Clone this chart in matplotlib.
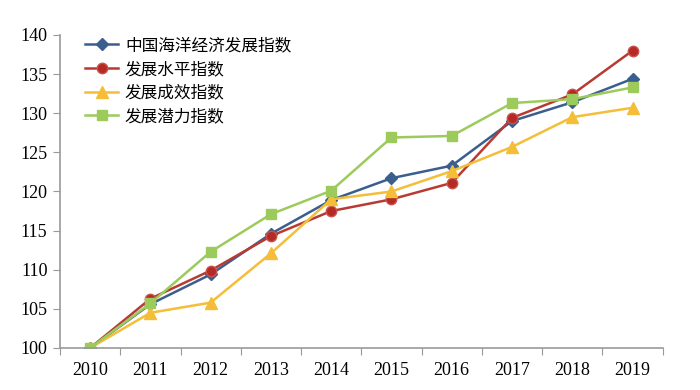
import matplotlib
matplotlib.use("Agg")
import matplotlib.pyplot as plt
import numpy as np

years = ["2010", "2011", "2012", "2013", "2014", "2015", "2016", "2017", "2018", "2019"]
ocean_index = [100, 105.6, 109.4, 114.6, 118.9, 121.7, 123.3, 129.0, 131.4, 134.4]
level_index = [100, 106.3, 109.9, 114.3, 117.5, 119.0, 121.1, 129.4, 132.4, 138.0]
result_index = [100, 104.5, 105.8, 112.1, 119.0, 120.0, 122.6, 125.7, 129.5, 130.7]
potential_index = [100, 105.7, 112.3, 117.1, 120.1, 126.9, 127.1, 131.3, 131.8, 133.3]
names = ["中国海洋经济发展指数", "发展水平指数", "发展成效指数", "发展潜力指数"]

plt.rcParams['font.family'] = ['Liberation Serif', 'Noto Sans CJK SC']

fig = plt.figure(figsize=(7, 3.9), dpi=100)
ax = fig.add_axes([0.0857, 0.1077, 0.861, 0.8026])

x = np.arange(len(years))
ax.plot(x, ocean_index, color='#3A5E8E', lw=1.8, marker='D', ms=6.5, label=names[0])
ax.plot(x, level_index, color='#B83B33', lw=1.8, marker='o', ms=7.5,
        mfc='#B52A24', mec='#C9524C', label=names[1])
ax.plot(x, result_index, color='#F4BE38', lw=1.8, marker='^', ms=8, label=names[2])
ax.plot(x, potential_index, color='#9CCB5C', lw=1.8, marker='s', ms=7, label=names[3])

ax.set_xlim(-0.5, len(years) - 0.5)
ax.set_ylim(100, 140)
ax.set_yticks(range(100, 141, 5))
ax.set_xticks(np.arange(-0.5, len(years), 1.0))
ax.set_xticklabels([])
ax.set_xticks(x, minor=True)
ax.set_xticklabels(years, minor=True)
ax.tick_params(axis='x', which='minor', length=0, pad=10, labelsize=13)
ax.tick_params(axis='x', which='major', length=5, color='#999999')
ax.tick_params(axis='y', length=5, color='#999999', labelsize=13, pad=4)

for s in ['top', 'right']:
    ax.spines[s].set_visible(False)
for s in ['left', 'bottom']:
    ax.spines[s].set_color('#999999')
    ax.spines[s].set_linewidth(1.2)

ax.legend(loc='upper left', bbox_to_anchor=(0.022, 1.03), frameon=False,
          prop={'family': ['Noto Sans CJK SC'], 'size': 12},
          handlelength=2.0, handletextpad=0.4, labelspacing=0.4, borderaxespad=0.3)

fig.savefig("out.png", dpi=100)
